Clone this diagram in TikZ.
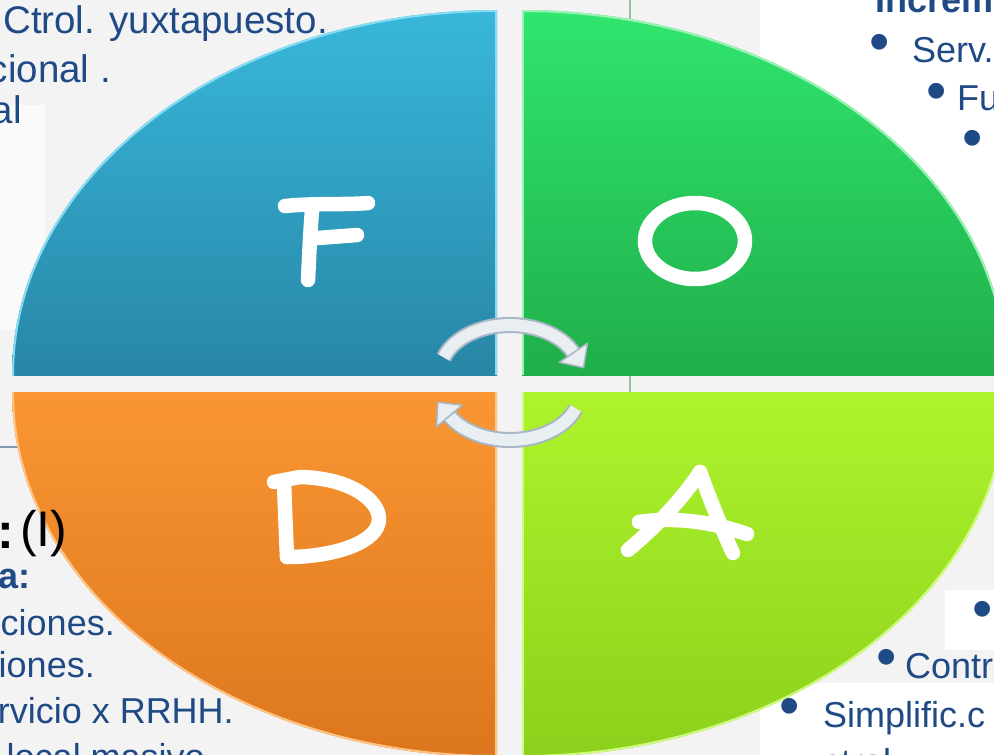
\documentclass[tikz,border=0pt]{standalone}
\usepackage{fontspec}
\setmainfont{Liberation Sans}
\definecolor{tblue}{HTML}{1F4A86}
\definecolor{bgrey}{HTML}{F3F3F3}
\definecolor{blueT}{HTML}{38B8DC}
\definecolor{blueB}{HTML}{2886A6}
\definecolor{blueRim}{HTML}{86DDF2}
\definecolor{greenT}{HTML}{30E66E}
\definecolor{greenB}{HTML}{20AE4A}
\definecolor{greenRim}{HTML}{9CF2B6}
\definecolor{orT}{HTML}{FA9632}
\definecolor{orB}{HTML}{DC761E}
\definecolor{orRim}{HTML}{FFC384}
\definecolor{limeT}{HTML}{AEF42C}
\definecolor{limeB}{HTML}{8CD01C}
\definecolor{limeRim}{HTML}{CFFA7E}
\definecolor{arrFill}{HTML}{E8EEF2}
\definecolor{arrLine}{HTML}{A7B6C2}
\begin{document}
\begin{tikzpicture}[x=1pt,y=-1pt,
  txt/.style={text=tblue, inner sep=0pt, font=\fontsize{36}{36}\selectfont},
  tltxt/.style={text=tblue, inner sep=0pt, font=\fontsize{38.5}{38.5}\selectfont},
  btxt/.style={text=tblue, inner sep=0pt, font=\fontsize{36}{36}\selectfont\bfseries},
  bul/.style={text=tblue, inner sep=0pt, font=\fontsize{58}{58}\selectfont},
  letter/.style={draw=white, line width=14.5pt, line cap=round, line join=round},
  rim/.style={line width=4pt},
  bevel/.style={line width=2.5pt},
  arrowband/.style={line width=#1, line cap=butt}]
\useasboundingbox (0,0) rectangle (994,755);
\clip (0,0) rectangle (994,755);
% background
\fill[bgrey] (0,0) rectangle (994,755);
\fill[white] (760,0) rectangle (994,290);
\fill[white] (945,590) rectangle (994,650);
\fill[white] (760,683) rectangle (994,755);
\fill[white!60!bgrey] (0,105) rectangle (45,330);
\draw[color={rgb,255:red,150;green,190;blue,155}, line width=1.5pt] (630,0) -- (630,392);
\draw[color={rgb,255:red,130;green,150;blue,175}, line width=2pt] (0,447) -- (40,447);
% top-left quadrant (F)
\begin{scope}
  \clip (0,0) rectangle (497,375);
  \clip (497,375) ellipse [x radius=485pt, y radius=365pt];
  \shade[top color=blueT, bottom color=blueB] (10,8) rectangle (497,375);
  \draw[blueRim, rim] (497,375) ellipse [x radius=485pt, y radius=365pt];
  \draw[blueRim, bevel] (496,0) -- (496,375);
\end{scope}
% top-right quadrant (O)
\begin{scope}
  \clip (522,0) rectangle (1010,375);
  \clip (522,375) ellipse [x radius=485pt, y radius=365pt];
  \shade[top color=greenT, bottom color=greenB] (522,8) rectangle (1010,375);
  \draw[greenRim, rim] (522,375) ellipse [x radius=485pt, y radius=365pt];
  \draw[greenRim, bevel] (523,0) -- (523,375);
\end{scope}
% bottom-left quadrant (D)
\begin{scope}
  \clip (0,392) rectangle (497,760);
  \clip (497,392) ellipse [x radius=485pt, y radius=365pt];
  \shade[top color=orT, bottom color=orB] (10,392) rectangle (497,760);
  \draw[orRim, rim] (497,392) ellipse [x radius=485pt, y radius=365pt];
  \draw[orRim, bevel] (496,392) -- (496,760);
\end{scope}
% bottom-right quadrant (A)
\begin{scope}
  \clip (522,392) rectangle (1010,760);
  \clip (522,392) ellipse [x radius=485pt, y radius=365pt];
  \shade[top color=limeT, bottom color=limeB] (522,392) rectangle (1010,760);
  \draw[limeRim, rim] (522,392) ellipse [x radius=485pt, y radius=365pt];
  \draw[limeRim, bevel] (523,392) -- (523,760);
\end{scope}
% letters
\draw[letter] (285,206) .. controls (315,203) and (345,205) .. (368,203);
\draw[letter] (312,210) .. controls (310,235) and (309,260) .. (308,280);
\draw[letter] (318,238) -- (357,235);
\draw[letter] (695,241) ellipse [x radius=50pt, y radius=38pt];
\draw[letter] (284,481) .. controls (285,510) and (286,535) .. (287,557);
\draw[letter] (274,482) -- (300,477) .. controls (350,478) and (379,500) .. (379,519)
  .. controls (379,542) and (335,557) .. (287,557);
\draw[letter] (700,472) .. controls (683,498) and (657,526) .. (628,550);
\draw[letter] (700,472) .. controls (711,502) and (723,532) .. (733,553);
\draw[letter] (639,522) .. controls (680,516) and (718,524) .. (747,534);
% rotation arrows
\draw[arrLine, arrowband=16pt] (443.8,357.4) arc[start angle=161, end angle=25, x radius=70pt, y radius=48pt];
\draw[arrFill, arrowband=12pt] (443.8,357.4) arc[start angle=161, end angle=25, x radius=70pt, y radius=48pt];
\filldraw[fill=arrFill, draw=arrLine, line width=1.5pt, line join=round] (559.3,362.3) -- (587.5,343.1) -- (583.5,367.6) -- cycle;
\draw[arrLine, arrowband=16pt] (575.8,408.4) arc[start angle=-20, end angle=-150, x radius=70pt, y radius=48pt];
\draw[arrFill, arrowband=12pt] (575.8,408.4) arc[start angle=-20, end angle=-150, x radius=70pt, y radius=48pt];
\filldraw[fill=arrFill, draw=arrLine, line width=1.5pt, line join=round] (462.4,405.1) -- (436.4,426.9) -- (437.8,402.2) -- cycle;
% top-left text
\node[tltxt, anchor=base east] (tl1) at (328,33) {Ctrol. yuxtapuesto.};
\node[tltxt, anchor=base east] (tl2) at (111,82) {cional .};
\node[tltxt, anchor=base east] (tl3) at (22,123) {al};
% top-right text
\node[btxt, anchor=base west] (tr0) at (875,12) {Increm};
\node[bul] (b1) at (880,48) {•};
\node[txt, anchor=base west] (tr1) at (912,62) {Serv.};
\node[bul] (b2) at (937,97) {•};
\node[txt, anchor=base west] (tr2) at (957,110) {Fu};
\node[bul] (b3) at (973,144) {•};
% bottom-left text
\node[anchor=base east, inner sep=0pt, font=\fontsize{50}{50}\selectfont\bfseries] (bl0) at (14,548) {:};
\node[anchor=base west, inner sep=0pt, font=\fontsize{50}{50}\selectfont] (bl1) at (20,546) {(I)};
\node[btxt, anchor=base east] (bl2) at (31,588) {a:};
\node[txt, anchor=base east] (bl3) at (115,635) {ciones.};
\node[txt, anchor=base east] (bl4) at (95,677) {iones.};
\node[txt, anchor=base east] (bl5) at (234,723) {rvicio x RRHH.};
\node[txt, anchor=base east] (bl6) at (205,769) {local masivo};
% bottom-right text
\node[bul] (b4) at (983,615) {•};
\node[bul] (b5) at (887,663) {•};
\node[txt, anchor=base west] (br1) at (905,678) {Contr};
\node[bul] (b6) at (790,712) {•};
\node[txt, anchor=base west] (br2) at (823,727) {Simplific.c};
\node[txt, anchor=base west] (br3) at (823,774) {ctral};
\end{tikzpicture}
\end{document}
